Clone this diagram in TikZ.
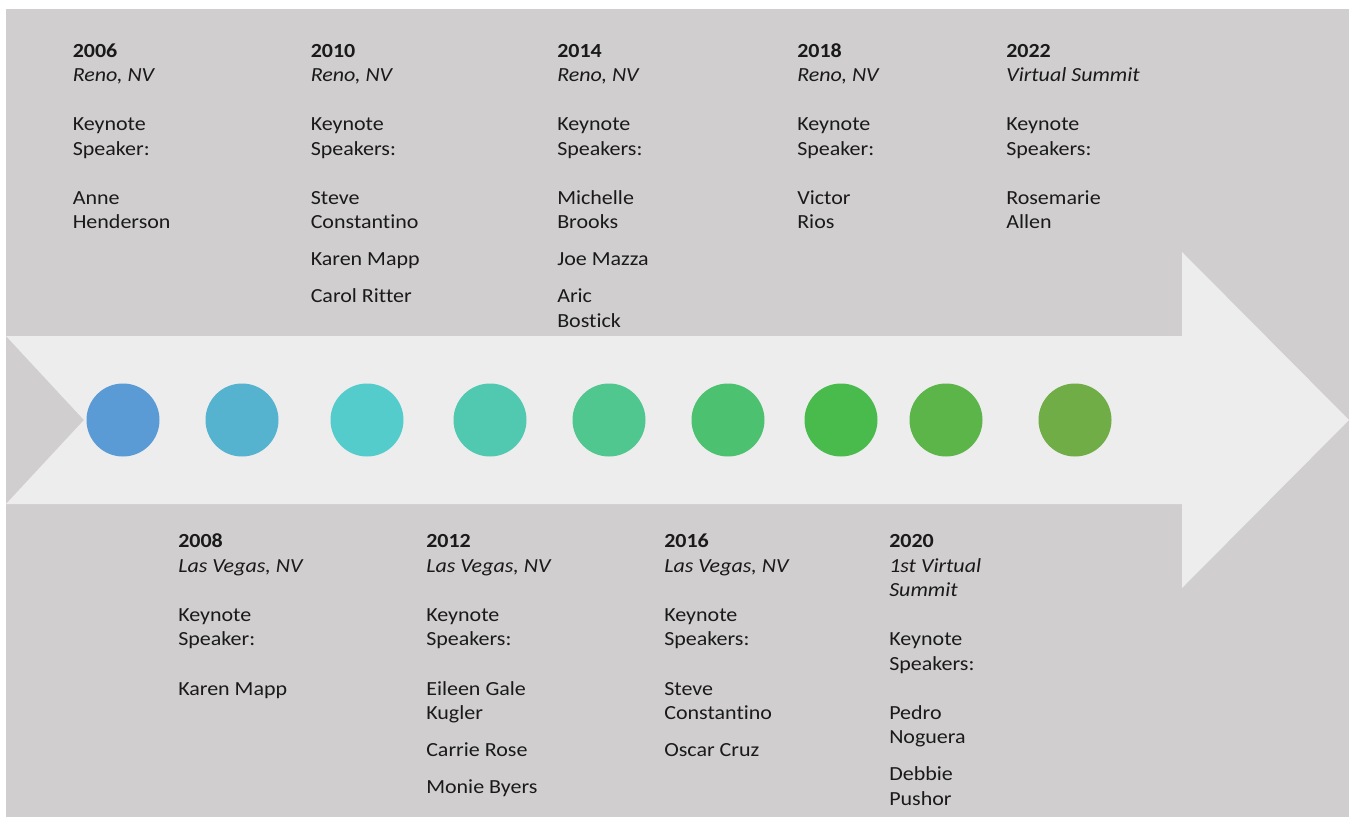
\documentclass[tikz,border=0pt]{standalone}
\usepackage{fontspec}
\setmainfont{Carlito}[FakeStretch=1.1, Ligatures={NoCommon}]
\definecolor{bggray}{HTML}{D0CECE}
\definecolor{arrowgray}{HTML}{EDEDED}
\definecolor{ca}{HTML}{5B9BD5}
\definecolor{cb}{HTML}{56B3D0}
\definecolor{cc}{HTML}{54CCCC}
\definecolor{cd}{HTML}{51C9B0}
\definecolor{ce}{HTML}{4FC78F}
\definecolor{cf}{HTML}{4CC170}
\definecolor{cg}{HTML}{49BB4D}
\definecolor{ch}{HTML}{5BB548}
\definecolor{ci}{HTML}{70AD47}
\definecolor{txt}{HTML}{1A1A1A}
\tikzset{
  dot/.style={circle, minimum size=54.75pt, inner sep=0pt, draw=none},
  lbl/.style={anchor=north west, inner sep=0pt, align=left,
    font=\fontsize{15}{18.3}\selectfont, text=txt},
}
\newcommand{\gapA}{\\[18.6pt]}
\newcommand{\gapB}{\\[9.45pt]}
\begin{document}
\begin{tikzpicture}[x=0.75pt,y=-0.75pt]
\useasboundingbox (0,0) rectangle (1349,817);
\fill[white] (0,0) rectangle (1349,817);
\fill[bggray] (6,9) rectangle (1349,817);
\fill[arrowgray] (6,336) -- (1182,336) -- (1182,252) -- (1349,420) -- (1182,588)
  -- (1182,504) -- (6,504) -- (84,420) -- cycle;

\node[dot, fill=ca] (c1) at (123,420) {};
\node[dot, fill=cb] (c2) at (242,420) {};
\node[dot, fill=cc] (c3) at (367,420) {};
\node[dot, fill=cd] (c4) at (490,420) {};
\node[dot, fill=ce] (c5) at (609,420) {};
\node[dot, fill=cf] (c6) at (728,420) {};
\node[dot, fill=cg] (c7) at (841,420) {};
\node[dot, fill=ch] (c8) at (946,420) {};
\node[dot, fill=ci] (c9) at (1075,420) {};

% top row
\node[lbl] (t2006) at (72.5,40) {\strut\textbf{2006}\\\textit{Reno, NV}\gapA Keynote\\Speaker:\gapA Anne\\Henderson};
\node[lbl] (t2010) at (310.5,40) {\strut\textbf{2010}\\\textit{Reno, NV}\gapA Keynote\\Speakers:\gapA Steve\\Constantino\gapB Karen Mapp\gapB Carol Ritter};
\node[lbl] (t2014) at (557,40) {\strut\textbf{2014}\\\textit{Reno, NV}\gapA Keynote\\Speakers:\gapA Michelle\\Brooks\gapB Joe Mazza\gapB Aric\\Bostick};
\node[lbl] (t2018) at (797,40) {\strut\textbf{2018}\\\textit{Reno, NV}\gapA Keynote\\Speaker:\gapA Victor\\Rios};
\node[lbl] (t2022) at (1006,40) {\strut\textbf{2022}\\\textit{Virtual Summit}\gapA Keynote\\Speakers:\gapA Rosemarie\\Allen};

% bottom row
\node[lbl] (t2008) at (178,530.5) {\strut\textbf{2008}\\\textit{Las Vegas, NV}\gapA Keynote\\Speaker:\gapA Karen Mapp};
\node[lbl] (t2012) at (426,530.5) {\strut\textbf{2012}\\\textit{Las Vegas, NV}\gapA Keynote\\Speakers:\gapA Eileen Gale\\Kugler\gapB Carrie Rose\gapB Monie Byers};
\node[lbl] (t2016) at (664,530.5) {\strut\textbf{2016}\\\textit{Las Vegas, NV}\gapA Keynote\\Speakers:\gapA Steve\\Constantino\gapB Oscar Cruz};
\node[lbl] (t2020) at (889,530.5) {\strut\textbf{2020}\\\textit{1st Virtual}\\\textit{Summit}\gapA Keynote\\Speakers:\gapA Pedro\\Noguera\gapB Debbie\\Pushor};
\end{tikzpicture}
\end{document}
